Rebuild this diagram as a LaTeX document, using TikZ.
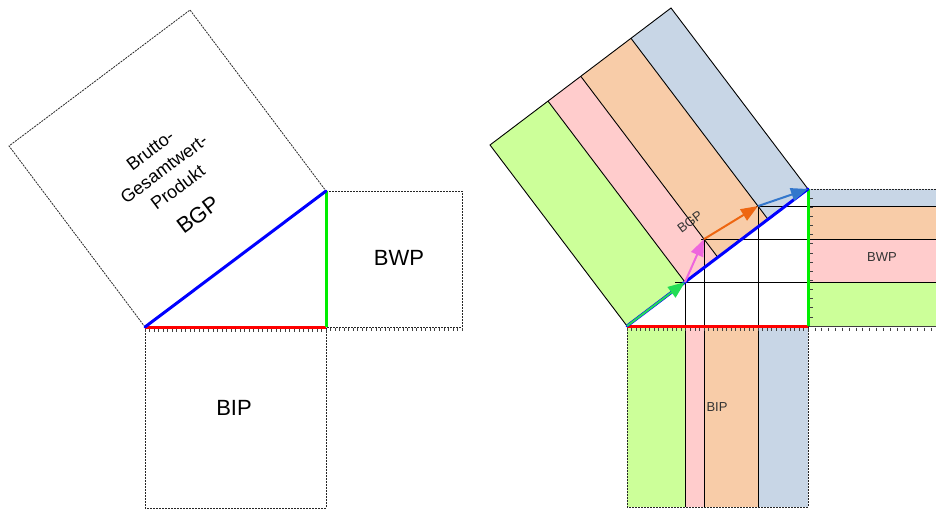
\documentclass[tikz,border=0pt]{standalone}
\usepackage{fontspec}
\setmainfont{Liberation Sans}
\usetikzlibrary{calc,arrows.meta}
\definecolor{sgreen}{HTML}{CCFF99}
\definecolor{spink}{HTML}{FFCCCC}
\definecolor{sorange}{HTML}{F8CCA8}
\definecolor{sblue}{HTML}{C8D6E6}
\definecolor{agreen}{HTML}{22DD55}
\definecolor{apink}{HTML}{EE66DD}
\definecolor{aorange}{HTML}{EE6611}
\definecolor{ablue}{HTML}{3377CC}
\definecolor{legred}{HTML}{FF0000}
\definecolor{leggreen}{HTML}{00EE00}
\definecolor{legblue}{HTML}{0000FF}
\begin{document}
\begin{tikzpicture}[x=1pt,y=-1pt,
  dashbox/.style={draw=black!85, line width=0.8pt, dash pattern=on 2pt off 1pt},
  stripline/.style={draw=black, line width=0.9pt},
  tickmark/.style={draw=black!75, line width=0.7pt},
  leg/.style={line width=3pt},
  vec/.style={line width=2pt, -{Triangle[length=17pt,width=13pt]}},
  lbl/.style={font=\fontsize{22}{26}\selectfont, inner sep=0pt},
  mlbl/.style={font=\fontsize{18}{23}\selectfont, align=center, inner sep=0pt},
  slbl/.style={font=\fontsize{13}{15}\selectfont, inner sep=0pt}]
\useasboundingbox (0,0) rectangle (936,511);
% ================= left figure =================
\coordinate (lA) at (145,327);
\coordinate (lB) at (326,327);
\coordinate (lC) at (326,191);
\coordinate (lD) at ($(lC)+(-136,-181)$);
\coordinate (lE) at ($(lA)+(-136,-181)$);
\coordinate (lR) at (462,191);
\coordinate (lF) at (145,508);
% squares
\draw[dashbox] (lA) -- (lE) -- (lD) -- (lC);
\draw[dashbox] (lC) -- (lR) -- (lR |- lB) -- (lB);
\draw[dashbox] (lA) -- (lF) -- (lB |- lF) -- (lB);
% ticks
\foreach \i in {0,...,40} \draw[tickmark] ({145+\i*4.525},328.5) -- ++(0,3);
\foreach \i in {1,...,30} \draw[tickmark] ({326+\i*4.533},328) -- ++(0,3);
% legs
\draw[leg, legred] (lA) -- (lB);
\draw[leg, leggreen] (lB) -- (lC);
\draw[leg, legblue, line cap=round] (lA) -- (lC);
% labels
\node[mlbl, rotate=36.87] (lbgptext) at (164,169) {Brutto-\\Gesamtwert-\\Produkt};
\node[lbl, rotate=36.87] (lbgp) at (198,215) {BGP};
\node[lbl] (lbwp) at (399,258) {BWP};
\node[lbl] (lbip) at (234,408) {BIP};
% ================= right figure =================
\coordinate (rA) at (627,326);
\coordinate (rB) at (808,326);
\coordinate (rC) at (808,189);
\coordinate (rD) at ($(rC)+(-137,-181)$);
\coordinate (rE) at ($(rA)+(-137,-181)$);
\coordinate (rR) at (945,189);
\coordinate (rF) at (627,507);
\coordinate (P1) at ($(rA)!58/181!(rC)$);
\coordinate (P2) at ($(P1)+(19,-43)$);
\coordinate (P3) at ($(P2)+(54,-33)$);
\coordinate (h1) at ($(rA)!(P1)!(rC)$);
\coordinate (h2) at ($(rA)!(P2)!(rC)$);
\coordinate (h3) at ($(rA)!(P3)!(rC)$);
\coordinate (h1t) at ($(h1)+(-137,-181)$);
\coordinate (h2t) at ($(h2)+(-137,-181)$);
\coordinate (h3t) at ($(h3)+(-137,-181)$);
% hypotenuse square strips
\fill[sgreen] (rA) -- (h1) -- (h1t) -- (rE) -- cycle;
\fill[spink] (h1) -- (h2) -- (h2t) -- (h1t) -- cycle;
\fill[sorange] (h2) -- (h3) -- (h3t) -- (h2t) -- cycle;
\fill[sblue] (h3) -- (rC) -- (rD) -- (h3t) -- cycle;
% BWP strips
\fill[sblue] (rC) rectangle (rR |- P3);
\fill[sorange] (rB |- P3) rectangle (rR |- P2);
\fill[spink] (rB |- P2) rectangle (rR |- P1);
\fill[sgreen] (rB |- P1) rectangle (rR |- rB);
% BIP strips
\fill[sgreen] (rA) rectangle (P1 |- rF);
\fill[spink] (P1 |- rA) rectangle (P2 |- rF);
\fill[sorange] (P2 |- rA) rectangle (P3 |- rF);
\fill[sblue] (P3 |- rA) rectangle (rB |- rF);
% outlines
\draw[stripline] (rA) -- (rE) -- (rD) -- (rC);
\draw[stripline] (h1) -- (h1t);
\draw[stripline] (h2) -- (h2t);
\draw[stripline] (h3) -- (h3t);
\draw[dashbox] (rC) -- (rR);
\draw[dashbox] (rA) -- (rF) -- (rB |- rF) -- (rB);
\draw[tickmark] (rB) -- (rR |- rB);
% grid lines
\draw[stripline] ($(P1)+(-10,0)$) -- (rR |- P1);
\draw[stripline] ($(P2)+(-3,0)$) -- (rR |- P2);
\draw[stripline] ($(P3)+(-2,0)$) -- (rR |- P3);
\draw[stripline] (P1) -- (P1 |- rF);
\draw[stripline] (P2) -- (P2 |- rF);
\draw[stripline] (P3) -- (P3 |- rF);
% ticks
\foreach \i in {0,...,40} \draw[tickmark] ({627+\i*4.525},327.5) -- ++(0,3);
\foreach \i in {1,...,14} \draw[tickmark] (809.5,{189+\i*9.133}) -- ++(3,0);
\foreach \i in {1,...,19} \draw[tickmark] ({808+\i*6.85},327.5) -- ++(0,3);
% legs
\draw[leg, legred] (rA) -- (rB);
\draw[leg, leggreen] (rB) -- (rC);
\draw[leg, legblue, line cap=round] (rA) -- (rC);
% vectors
\draw[vec, agreen] (rA) -- (P1);
\draw[vec, apink] (P1) -- (P2);
\draw[vec, aorange] (P2) -- (P3);
\draw[vec, ablue] (P3) -- (rC);
% labels
\node[slbl, rotate=36.87, text=black!80] (rbgp) at (690,222) {BGP};
\node[slbl, text=black!80] (rbwp) at (882,257) {BWP};
\node[slbl, text=black!80] (rbip) at (717,407) {BIP};
\end{tikzpicture}
\end{document}
